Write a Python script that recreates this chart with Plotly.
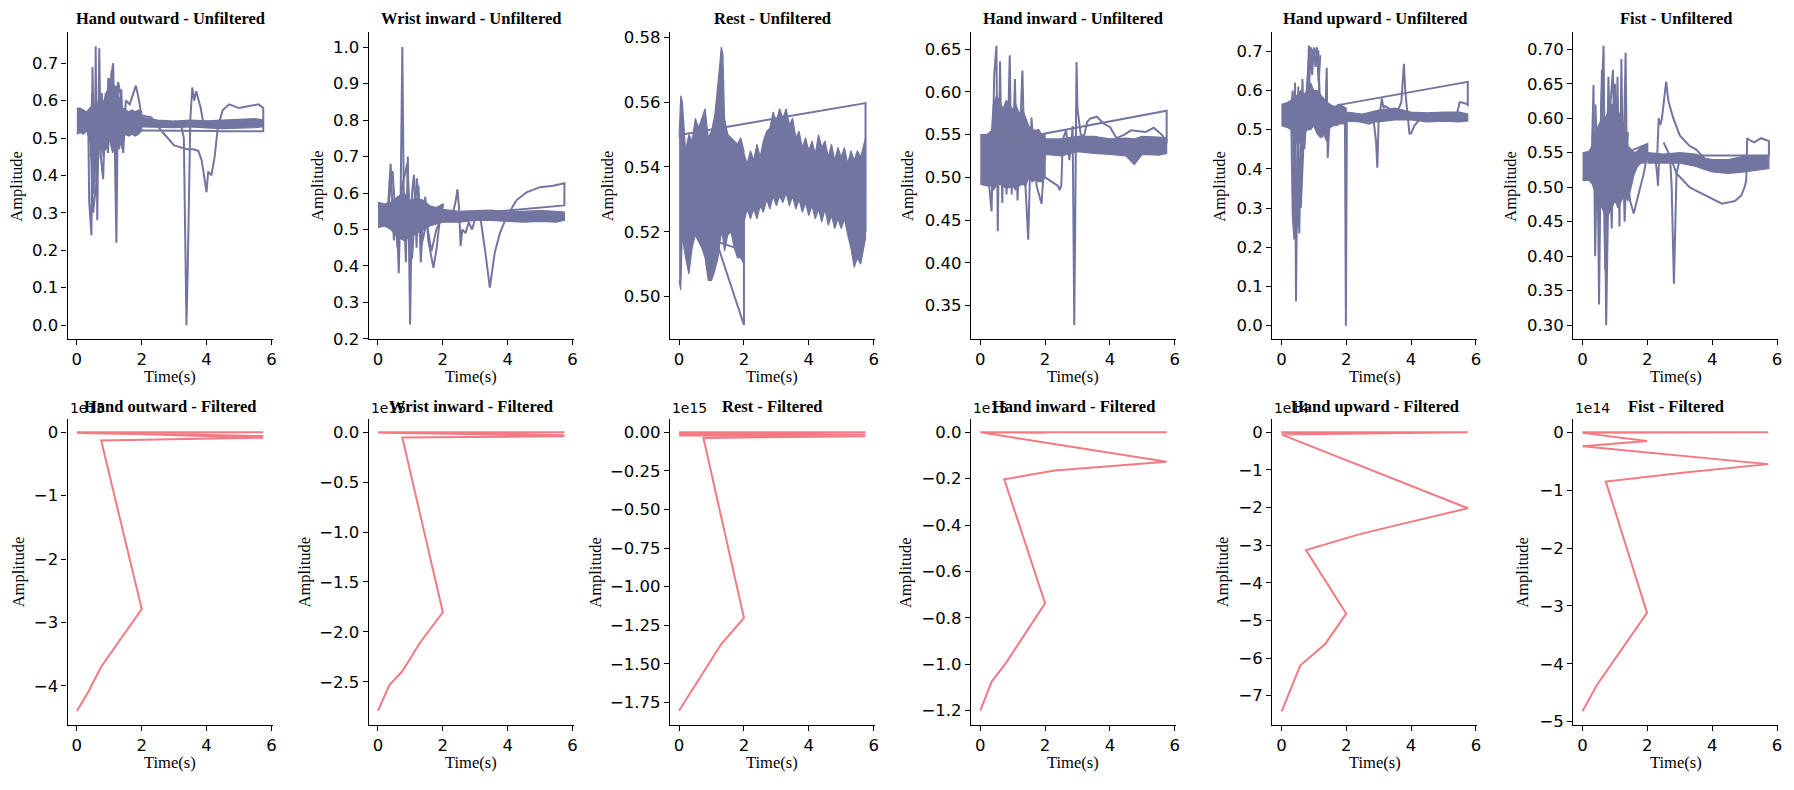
import plotly.graph_objects as go

# ---------------- data ----------------
gestures = ["Hand outward", "Wrist inward", "Rest", "Hand inward", "Hand upward", "Fist"]
x_ticks = [0, 2, 4, 6]

# Hand outward - unfiltered
ho_b1_t = [0.0, 0.1, 0.2, 0.3, 0.4, 0.5, 0.6, 0.7, 0.8, 0.9, 1.0, 1.1, 1.2, 1.3, 1.4, 1.5, 1.6, 1.7, 1.8, 1.9, 2.0]
ho_b1_hi = [0.58, 0.58, 0.575, 0.57, 0.58, 0.59, 0.585, 0.6, 0.59, 0.62, 0.64, 0.63, 0.6, 0.61, 0.58, 0.575, 0.57, 0.575, 0.57, 0.575, 0.57]
ho_b1_lo = [0.51, 0.515, 0.51, 0.52, 0.49, 0.46, 0.47, 0.49, 0.46, 0.47, 0.5, 0.46, 0.48, 0.47, 0.5, 0.51, 0.505, 0.51, 0.505, 0.51, 0.52]
ho_b2_t = [2.0, 2.5, 3.0, 3.5, 4.0, 4.5, 5.0, 5.5, 5.75]
ho_b2_hi = [0.555, 0.548, 0.545, 0.548, 0.546, 0.548, 0.55, 0.552, 0.548]
ho_b2_lo = [0.53, 0.53, 0.528, 0.53, 0.527, 0.525, 0.527, 0.528, 0.53]
ho_l1_t = [0.35, 0.38, 0.45, 0.48, 0.55, 0.58, 0.63, 0.69, 0.74, 0.81, 0.89, 0.96, 1.07, 1.12, 1.17, 1.22, 1.27, 1.34, 1.43, 1.51, 1.63, 1.73, 1.82, 1.92, 1.99]
ho_l1_y = [0.55, 0.33, 0.24, 0.69, 0.38, 0.745, 0.28, 0.74, 0.45, 0.39, 0.62, 0.46, 0.67, 0.70, 0.47, 0.22, 0.65, 0.62, 0.46, 0.60, 0.59, 0.62, 0.64, 0.60, 0.56]
ho_l2_t = [0.4, 0.5, 0.6, 0.7, 0.8, 0.9, 1.0, 1.1, 1.2, 1.3, 1.4, 1.5]
ho_l2_y = [0.56, 0.30, 0.38, 0.50, 0.60, 0.55, 0.66, 0.52, 0.64, 0.55, 0.47, 0.55]
ho_l3_t = [2.0, 2.3, 2.6, 2.8, 3.0, 3.2, 3.4, 3.6, 3.75, 3.85, 3.95, 4.0, 4.05, 4.15, 4.25, 4.35, 4.5, 4.7, 5.0, 5.3, 5.6, 5.75, 5.75, 2.0]
ho_l3_y = [0.56, 0.555, 0.52, 0.50, 0.48, 0.475, 0.47, 0.47, 0.465, 0.44, 0.38, 0.355, 0.41, 0.40, 0.45, 0.53, 0.575, 0.59, 0.58, 0.585, 0.59, 0.58, 0.518, 0.52]
ho_l4_t = [3.0, 3.2, 3.3, 3.35, 3.38, 3.42, 3.5, 3.56, 3.62, 3.68, 3.75, 3.82, 3.9, 4.0, 4.5, 5.0, 5.5, 5.75]
ho_l4_y = [0.545, 0.54, 0.50, 0.10, 0.0, 0.15, 0.55, 0.635, 0.60, 0.625, 0.605, 0.58, 0.54, 0.53, 0.535, 0.54, 0.535, 0.535]
ho_l5_t = [3.55, 5.75]
ho_l5_y = [0.536, 0.536]
ho_l6_t = [0.42, 0.47, 0.52, 0.57, 0.62, 0.67, 0.72, 0.77, 0.82, 0.87, 0.92, 0.97, 1.02, 1.07, 1.12, 1.17, 1.22, 1.27, 1.32, 1.37, 1.42, 1.47]
ho_l6_y = [0.45, 0.62, 0.35, 0.58, 0.40, 0.60, 0.48, 0.62, 0.45, 0.58, 0.50, 0.66, 0.49, 0.68, 0.55, 0.64, 0.40, 0.60, 0.50, 0.63, 0.52, 0.58]

# Wrist inward - unfiltered
wi_b1_t = [0.0, 0.2, 0.4, 0.6, 0.8, 1.0, 1.2, 1.4, 1.6, 1.8, 2.0]
wi_b1_hi = [0.575, 0.57, 0.575, 0.59, 0.6, 0.58, 0.585, 0.58, 0.565, 0.56, 0.57]
wi_b1_lo = [0.505, 0.51, 0.50, 0.48, 0.47, 0.48, 0.49, 0.50, 0.51, 0.515, 0.52]
wi_b2_t = [2.0, 2.5, 3.0, 3.5, 4.0, 4.5, 5.0, 5.5, 5.75]
wi_b2_hi = [0.555, 0.55, 0.552, 0.553, 0.548, 0.55, 0.552, 0.55, 0.548]
wi_b2_lo = [0.52, 0.52, 0.525, 0.525, 0.522, 0.52, 0.522, 0.52, 0.525]
wi_l1_t = [0.3, 0.39, 0.49, 0.58, 0.64, 0.70, 0.75, 0.80, 0.86, 0.92, 0.99, 1.05, 1.11, 1.19, 1.25, 1.32, 1.40, 1.46, 1.55, 1.71, 1.81, 1.91, 2.01]
wi_l1_y = [0.55, 0.68, 0.47, 0.55, 0.38, 0.60, 1.0, 0.55, 0.41, 0.70, 0.24, 0.60, 0.65, 0.45, 0.62, 0.41, 0.55, 0.59, 0.47, 0.395, 0.45, 0.53, 0.57]
wi_l2_t = [0.3, 0.45, 0.6, 0.75, 0.9, 1.05, 1.2, 1.35, 1.5, 1.65, 1.8, 2.0]
wi_l2_y = [0.55, 0.66, 0.45, 0.62, 0.68, 0.42, 0.64, 0.46, 0.52, 0.44, 0.5, 0.54]
wi_l3_t = [2.0, 2.3, 2.4, 2.45, 2.5, 2.55, 2.6, 2.7, 2.8, 2.9, 3.0, 3.14, 3.3, 3.45, 3.6, 3.76, 3.97, 4.27, 4.58, 5.0, 5.4, 5.75, 5.75, 2.5]
wi_l3_y = [0.54, 0.54, 0.58, 0.61, 0.56, 0.455, 0.50, 0.49, 0.52, 0.50, 0.53, 0.544, 0.445, 0.341, 0.436, 0.49, 0.535, 0.58, 0.602, 0.616, 0.62, 0.627, 0.566, 0.54]

# Rest - unfiltered
re_b1_t = [0.0, 0.05, 0.1, 0.15, 0.2, 0.3, 0.4, 0.5, 0.6, 0.7, 0.8, 0.9, 1.0, 1.1, 1.2, 1.25, 1.3, 1.35, 1.4, 1.5, 1.6, 1.7, 1.8, 1.9, 2.0]
re_b1_hi = [0.549, 0.562, 0.560, 0.553, 0.545, 0.550, 0.548, 0.555, 0.552, 0.555, 0.558, 0.549, 0.551, 0.556, 0.565, 0.571, 0.577, 0.575, 0.555, 0.550, 0.549, 0.548, 0.547, 0.549, 0.545]
re_b1_lo = [0.505, 0.502, 0.52, 0.515, 0.512, 0.507, 0.515, 0.519, 0.517, 0.515, 0.512, 0.505, 0.505, 0.508, 0.512, 0.516, 0.52, 0.518, 0.514, 0.519, 0.52, 0.515, 0.512, 0.512, 0.51]
re_b2_t = [2.0, 2.1, 2.2, 2.3, 2.4, 2.5, 2.6, 2.7, 2.8, 2.9, 3.0, 3.1, 3.2, 3.3, 3.4, 3.5, 3.6, 3.7, 3.8, 3.9,
           4.0, 4.1, 4.2, 4.3, 4.4, 4.5, 4.6, 4.7, 4.8, 4.9, 5.0, 5.1, 5.2, 5.3, 5.4, 5.5, 5.6, 5.7, 5.75]
re_b2_hi = [0.544, 0.541, 0.545, 0.542, 0.547, 0.543, 0.548, 0.551, 0.552, 0.557, 0.554, 0.558, 0.555, 0.558, 0.553, 0.555, 0.549, 0.551, 0.546, 0.549,
            0.545, 0.548, 0.544, 0.550, 0.546, 0.548, 0.543, 0.547, 0.542, 0.546, 0.543, 0.546, 0.541, 0.545, 0.542, 0.545, 0.543, 0.547, 0.549]
re_b2_lo = [0.523, 0.527, 0.524, 0.527, 0.524, 0.528, 0.526, 0.530, 0.527, 0.531, 0.528, 0.531, 0.529, 0.532, 0.528, 0.531, 0.527, 0.530, 0.526, 0.529,
            0.525, 0.528, 0.524, 0.527, 0.523, 0.527, 0.522, 0.525, 0.521, 0.524, 0.521, 0.524, 0.519, 0.515, 0.509, 0.512, 0.510, 0.515, 0.518]
re_l1_t = [0.15, 5.75, 5.75]
re_l1_y = [0.5501, 0.5597, 0.52]
re_l2_t = [1.75, 1.15, 2.0, 2.0]
re_l2_y = [0.515, 0.517, 0.4912, 0.53]

# Hand inward - unfiltered
hi_b1_t = [0.0, 0.2, 0.35, 0.4, 0.5, 0.6, 0.7, 0.8, 0.9, 1.0, 1.1, 1.2, 1.3, 1.4, 1.5, 1.6, 1.7, 1.8, 1.9, 2.0]
hi_b1_hi = [0.55, 0.55, 0.555, 0.585, 0.595, 0.59, 0.58, 0.59, 0.585, 0.58, 0.585, 0.575, 0.58, 0.57, 0.56, 0.556, 0.555, 0.556, 0.55, 0.55]
hi_b1_lo = [0.492, 0.49, 0.49, 0.485, 0.49, 0.492, 0.49, 0.487, 0.488, 0.49, 0.485, 0.49, 0.492, 0.49, 0.5, 0.495, 0.497, 0.495, 0.495, 0.5]
hi_b2_t = [2.0, 2.5, 3.0, 3.5, 4.0, 4.5, 4.75, 5.0, 5.5, 5.75]
hi_b2_hi = [0.545, 0.545, 0.548, 0.548, 0.545, 0.546, 0.545, 0.548, 0.547, 0.546]
hi_b2_lo = [0.527, 0.525, 0.53, 0.528, 0.527, 0.525, 0.515, 0.527, 0.526, 0.528]
hi_l1_t = [0.2, 0.35, 0.43, 0.50, 0.54, 0.61, 0.68, 0.74, 0.81, 0.91, 0.97, 1.07, 1.15, 1.30, 1.38, 1.48, 1.58, 1.74, 1.89, 2.0]
hi_l1_y = [0.52, 0.46, 0.62, 0.654, 0.437, 0.636, 0.47, 0.58, 0.48, 0.643, 0.48, 0.615, 0.473, 0.625, 0.50, 0.427, 0.57, 0.49, 0.469, 0.53]
hi_l2_t = [2.0, 2.2, 2.4, 2.45, 2.5, 2.55]
hi_l2_y = [0.50, 0.495, 0.49, 0.485, 0.49, 0.545]
hi_l3_t = [2.5, 2.65, 2.75, 2.85, 2.88, 2.9, 2.93, 2.97, 3.0, 3.1, 3.2, 3.3, 3.4, 3.6, 3.8, 4.0, 4.2, 4.45, 4.65, 5.1, 5.35, 5.6, 5.75]
hi_l3_y = [0.54, 0.555, 0.52, 0.56, 0.42, 0.327, 0.45, 0.635, 0.58, 0.55, 0.548, 0.565, 0.569, 0.571, 0.563, 0.559, 0.546, 0.55, 0.555, 0.553, 0.558, 0.55, 0.542]
hi_l4_t = [1.8, 5.75, 5.75]
hi_l4_y = [0.55, 0.578, 0.54]
hi_l5_t = [2.95, 4.1]
hi_l5_y = [0.537, 0.54]

# Hand upward - unfiltered
hu_b1_t = [0.0, 0.2, 0.3, 0.4, 0.5, 0.6, 0.7, 0.8, 0.9, 1.0, 1.1, 1.2, 1.3, 1.4, 1.5, 1.6, 1.7, 1.8, 1.9, 2.0]
hu_b1_hi = [0.565, 0.57, 0.575, 0.58, 0.59, 0.6, 0.59, 0.6, 0.62, 0.6, 0.6, 0.59, 0.58, 0.57, 0.565, 0.56, 0.56, 0.565, 0.56, 0.555]
hu_b1_lo = [0.51, 0.505, 0.5, 0.48, 0.46, 0.47, 0.49, 0.5, 0.5, 0.51, 0.49, 0.48, 0.49, 0.47, 0.505, 0.51, 0.51, 0.515, 0.515, 0.52]
hu_b2_t = [2.0, 2.5, 3.0, 3.5, 4.0, 4.5, 5.0, 5.5, 5.75]
hu_b2_hi = [0.545, 0.54, 0.55, 0.555, 0.545, 0.543, 0.545, 0.545, 0.54]
hu_b2_lo = [0.522, 0.52, 0.52, 0.525, 0.525, 0.52, 0.522, 0.52, 0.522]
hu_l1_t = [0.3, 0.35, 0.39, 0.42, 0.45, 0.49, 0.52, 0.55, 0.6, 0.65, 0.71, 0.78, 0.85, 0.93, 1.04, 1.14, 1.19, 1.26, 1.35, 1.40, 1.43, 1.5, 1.76, 1.96, 1.99, 2.02]
hu_l1_y = [0.55, 0.60, 0.26, 0.62, 0.062, 0.35, 0.61, 0.235, 0.40, 0.629, 0.45, 0.55, 0.714, 0.68, 0.70, 0.70, 0.55, 0.48, 0.53, 0.658, 0.428, 0.55, 0.55, 0.545, 0.0, 0.53]
hu_l2_t = [0.6, 0.7, 0.8, 0.85, 0.9, 1.0, 1.1, 1.15, 1.2, 1.3]
hu_l2_y = [0.30, 0.50, 0.62, 0.68, 0.71, 0.69, 0.71, 0.65, 0.50, 0.55]
hu_l3_t = [0.3, 0.35, 0.4, 0.45, 0.5, 0.55, 0.6, 0.65]
hu_l3_y = [0.55, 0.28, 0.22, 0.3, 0.25, 0.38, 0.35, 0.5]
hu_l4_t = [2.0, 2.5, 2.7, 2.85, 2.92, 2.96, 3.0, 3.05, 3.1, 3.15, 3.2, 3.4, 3.6, 3.7, 3.75, 3.78, 3.82, 3.9, 3.95, 4.0, 4.1, 4.3, 4.6, 5.0, 5.4, 5.5, 5.55, 5.75]
hu_l4_y = [0.53, 0.52, 0.515, 0.52, 0.47, 0.403, 0.52, 0.55, 0.58, 0.555, 0.56, 0.55, 0.55, 0.57, 0.62, 0.668, 0.60, 0.53, 0.49, 0.49, 0.51, 0.53, 0.535, 0.54, 0.535, 0.57, 0.57, 0.565]
hu_l5_t = [1.7, 5.75, 5.75]
hu_l5_y = [0.562, 0.622, 0.56]
hu_l6_t = [0.85, 0.9, 0.95, 1.0, 1.05, 1.1, 1.15, 1.2]
hu_l6_y = [0.60, 0.70, 0.64, 0.71, 0.66, 0.70, 0.62, 0.69]

# Fist - unfiltered
fi_b1_t = [0.0, 0.2, 0.3, 0.4, 0.5, 0.6, 0.7, 0.8, 0.9, 1.0, 1.1, 1.2, 1.3, 1.4, 1.5, 1.6, 1.7, 1.8, 1.9, 2.0]
fi_b1_hi = [0.55, 0.552, 0.56, 0.58, 0.59, 0.6, 0.6, 0.61, 0.62, 0.62, 0.61, 0.6, 0.59, 0.56, 0.555, 0.55, 0.553, 0.558, 0.56, 0.56]
fi_b1_lo = [0.51, 0.51, 0.505, 0.49, 0.48, 0.47, 0.46, 0.46, 0.47, 0.48, 0.47, 0.48, 0.49, 0.48, 0.5, 0.52, 0.53, 0.535, 0.535, 0.54]
fi_b2_t = [2.0, 2.5, 3.0, 3.5, 3.8, 4.0, 4.5, 5.0, 5.5, 5.75]
fi_b2_hi = [0.55, 0.548, 0.55, 0.548, 0.542, 0.54, 0.54, 0.545, 0.545, 0.545]
fi_b2_lo = [0.535, 0.535, 0.535, 0.53, 0.525, 0.522, 0.52, 0.522, 0.525, 0.527]
fi_l1_t = [0.29, 0.34, 0.39, 0.46, 0.51, 0.58, 0.65, 0.69, 0.73, 0.78, 0.86, 0.94, 1.01, 1.08, 1.14, 1.2, 1.25, 1.33, 1.37, 1.47, 1.58, 1.73, 1.89, 2.01]
fi_l1_y = [0.55, 0.648, 0.40, 0.58, 0.33, 0.62, 0.705, 0.50, 0.30, 0.45, 0.62, 0.67, 0.48, 0.66, 0.443, 0.686, 0.50, 0.695, 0.52, 0.48, 0.462, 0.49, 0.52, 0.55]
fi_l2_t = [0.4, 0.5, 0.6, 0.7, 0.8, 0.9, 1.0, 1.1, 1.2, 1.3, 1.4]
fi_l2_y = [0.62, 0.45, 0.67, 0.38, 0.66, 0.44, 0.65, 0.47, 0.63, 0.45, 0.58]
fi_l3_t = [2.3, 2.35, 2.4, 2.45, 2.5, 2.55, 2.58, 2.65, 2.8, 3.0, 3.3, 3.5, 3.8, 4.0, 4.5, 5.0, 5.5, 5.75]
fi_l3_y = [0.54, 0.60, 0.59, 0.60, 0.62, 0.64, 0.653, 0.625, 0.60, 0.575, 0.56, 0.555, 0.54, 0.535, 0.53, 0.535, 0.535, 0.535]
fi_l4_t = [2.5, 2.6, 2.7, 2.9, 3.1, 3.3, 3.5, 3.7, 3.9, 4.1, 4.3, 4.5, 4.7, 4.9, 5.0, 5.05, 5.08, 5.2, 5.3, 5.5, 5.65, 5.75, 5.75, 3.6]
fi_l4_y = [0.565, 0.555, 0.545, 0.52, 0.51, 0.50, 0.495, 0.49, 0.485, 0.48, 0.476, 0.478, 0.48, 0.488, 0.50, 0.51, 0.571, 0.567, 0.565, 0.571, 0.568, 0.567, 0.546, 0.546]
fi_l5_t = [2.7, 2.75, 2.8, 2.82, 2.85, 2.9, 3.0]
fi_l5_y = [0.545, 0.50, 0.40, 0.36, 0.42, 0.52, 0.54]
fi_l6_t = [1.5, 2.0, 2.0]
fi_l6_y = [0.553, 0.5625, 0.545]
fi_l7_t = [2.1, 2.25, 2.3, 2.33, 2.36, 2.45]
fi_l7_y = [0.545, 0.54, 0.52, 0.502, 0.54, 0.545]

# Filtered (values in units of 10^exp)
filt_exp = [15, 15, 15, 15, 14, 14]
hof_t = [0, 5.75, 0, 5.75, 0, 5.75, 0.75, 2.0, 0.75, 0.35, 0]
hof_y = [0, 0, -0.01, -0.06, 0.0, -0.085, -0.13, -2.79, -3.7, -4.1, -4.4]
wif_t = [0, 5.75, 0, 5.75, 0, 5.75, 0.75, 2.0, 1.3, 0.75, 0.35, 0]
wif_y = [0, 0, -0.005, -0.03, 0, -0.04, -0.0525, -1.804, -2.106, -2.395, -2.533, -2.789]
ref_t = [0, 5.75, 0, 5.75, 0, 5.75, 0.75, 2.0, 1.3, 0.515, 0]
ref_y = [0, 0, -0.01, -0.015, -0.02, -0.025, -0.036, -1.203, -1.372, -1.627, -1.803]
hif_t = [0, 2.0, 0, 5.75, 0, 5.75, 2.3, 0.74, 2.0, 0.81, 0.35, 0]
hif_y = [0, -0.002, 0, 0, 0, -0.127, -0.165, -0.203, -0.737, -0.991, -1.076, -1.2]
huf_t = [0, 2.0, 0, 5.75, 0.01, 5.75, 4.64, 3.4, 2.37, 0.76, 2.0, 1.35, 0.58, 0.01]
huf_y = [-0.02, -0.04, 0, 0, -0.06, -2.02, -2.24, -2.5, -2.72, -3.13, -4.82, -5.63, -6.2, -7.42]
fif_t = [0, 2.0, 0, 5.73, 0, 1.99, 0, 5.73, 3.23, 0.72, 1.99, 0.44, 0]
fif_y = [0, -0.01, 0, 0, -0.01, -0.15, -0.24, -0.55, -0.69, -0.85, -3.12, -4.37, -4.82]

# axis ticks / ranges
top_yrange = [[-0.037, 0.782], [0.2, 1.04], [0.4869, 0.5815], [0.3108, 0.6696], [-0.034, 0.748], [0.28, 0.7243]]
top_yticks = [[0, 0.1, 0.2, 0.3, 0.4, 0.5, 0.6, 0.7],
              [0.2, 0.3, 0.4, 0.5, 0.6, 0.7, 0.8, 0.9, 1.0],
              [0.50, 0.52, 0.54, 0.56, 0.58],
              [0.35, 0.40, 0.45, 0.50, 0.55, 0.60, 0.65],
              [0, 0.1, 0.2, 0.3, 0.4, 0.5, 0.6, 0.7],
              [0.30, 0.35, 0.40, 0.45, 0.50, 0.55, 0.60, 0.65, 0.70]]
top_yfmt = [".1f", ".1f", ".2f", ".2f", ".1f", ".2f"]
bot_yrange = [[-4.62, 0.207], [-2.933, 0.131], [-1.897, 0.085], [-1.262, 0.0565], [-7.78, 0.348], [-5.057, 0.226]]
bot_yticks = [[-4, -3, -2, -1, 0],
              [-2.5, -2.0, -1.5, -1.0, -0.5, 0.0],
              [-1.75, -1.5, -1.25, -1.0, -0.75, -0.5, -0.25, 0.0],
              [-1.2, -1.0, -0.8, -0.6, -0.4, -0.2, 0.0],
              [-7, -6, -5, -4, -3, -2, -1, 0],
              [-5, -4, -3, -2, -1, 0]]
bot_yfmt = ["d", ".1f", ".2f", ".1f", "d", "d"]

# ---------------- assembly ----------------
UNF = "#72759f"
FIL = "#f27a82"
W, H = 1794, 790
lefts_px = [67.7, 369.5, 671.3, 973.1, 1274.9, 1576.7]
width_px = 205.5
top_px = (29.0, 341.0)
bot_px = (422.7, 734.0)
amp_x_top = [17, 318, 609, 909.3, 1222.7, 1514.3]
amp_x_bot = [18.3, 305, 596, 907, 1225, 1526]

top_bands = [
    [(ho_b1_t, ho_b1_hi, ho_b1_lo), (ho_b2_t, ho_b2_hi, ho_b2_lo)],
    [(wi_b1_t, wi_b1_hi, wi_b1_lo), (wi_b2_t, wi_b2_hi, wi_b2_lo)],
    [(re_b1_t, re_b1_hi, re_b1_lo), (re_b2_t, re_b2_hi, re_b2_lo)],
    [(hi_b1_t, hi_b1_hi, hi_b1_lo), (hi_b2_t, hi_b2_hi, hi_b2_lo)],
    [(hu_b1_t, hu_b1_hi, hu_b1_lo), (hu_b2_t, hu_b2_hi, hu_b2_lo)],
    [(fi_b1_t, fi_b1_hi, fi_b1_lo), (fi_b2_t, fi_b2_hi, fi_b2_lo)],
]
top_lines = [
    [(ho_l1_t, ho_l1_y), (ho_l2_t, ho_l2_y), (ho_l3_t, ho_l3_y), (ho_l4_t, ho_l4_y), (ho_l5_t, ho_l5_y),
     (ho_l6_t, ho_l6_y)],
    [(wi_l1_t, wi_l1_y), (wi_l2_t, wi_l2_y), (wi_l3_t, wi_l3_y)],
    [(re_l1_t, re_l1_y), (re_l2_t, re_l2_y)],
    [(hi_l1_t, hi_l1_y), (hi_l2_t, hi_l2_y), (hi_l3_t, hi_l3_y), (hi_l4_t, hi_l4_y), (hi_l5_t, hi_l5_y)],
    [(hu_l1_t, hu_l1_y), (hu_l2_t, hu_l2_y), (hu_l3_t, hu_l3_y), (hu_l4_t, hu_l4_y), (hu_l5_t, hu_l5_y),
     (hu_l6_t, hu_l6_y)],
    [(fi_l1_t, fi_l1_y), (fi_l2_t, fi_l2_y), (fi_l3_t, fi_l3_y), (fi_l4_t, fi_l4_y), (fi_l5_t, fi_l5_y),
     (fi_l6_t, fi_l6_y), (fi_l7_t, fi_l7_y)],
]
bot_lines = [(hof_t, hof_y), (wif_t, wif_y), (ref_t, ref_y), (hif_t, hif_y), (huf_t, huf_y), (fif_t, fif_y)]

fig = go.Figure()
TICKFONT = dict(family="DejaVu Sans", size=16.5, color="black")
SERIF = "Liberation Serif"
LBL = 16.5


def px_x(p):
    return p / W


def px_y(p):
    return 1 - p / H


annotations = []

for i in range(6):
    for row in (0, 1):
        n = i + 1 + 6 * row
        xa = "x" if n == 1 else f"x{n}"
        ya = "y" if n == 1 else f"y{n}"
        if row == 0:
            for (t, hi, lo) in top_bands[i]:
                fig.add_trace(go.Scatter(x=list(t) + list(t)[::-1], y=list(hi) + list(lo)[::-1],
                                         fill="toself", fillcolor=UNF, mode="lines",
                                         line=dict(color=UNF, width=1.2),
                                         xaxis=xa, yaxis=ya, showlegend=False, hoverinfo="skip"))
            for (t, y) in top_lines[i]:
                fig.add_trace(go.Scatter(x=t, y=y, mode="lines", line=dict(color=UNF, width=2),
                                         xaxis=xa, yaxis=ya, showlegend=False))
        else:
            t, y = bot_lines[i]
            fig.add_trace(go.Scatter(x=t, y=y, mode="lines", line=dict(color=FIL, width=2),
                                     xaxis=xa, yaxis=ya, showlegend=False))

        xd = [px_x(lefts_px[i]), px_x(lefts_px[i] + width_px)]
        tp, bp = top_px if row == 0 else bot_px
        yd = [px_y(bp), px_y(tp)]
        axis_common = dict(showline=True, linecolor="black", linewidth=1.1, ticks="outside",
                           ticklen=5, tickwidth=1.1, tickcolor="black", showgrid=False,
                           zeroline=False, tickfont=TICKFONT, mirror=False)
        fig.layout[f"xaxis{n}"] = dict(domain=xd, anchor=ya, range=[-0.2875, 6.0375],
                                       tickvals=x_ticks, **axis_common)
        if row == 0:
            fig.layout[f"yaxis{n}"] = dict(domain=yd, anchor=xa, range=top_yrange[i],
                                           tickvals=top_yticks[i], tickformat=top_yfmt[i], **axis_common)
        else:
            fig.layout[f"yaxis{n}"] = dict(domain=yd, anchor=xa, range=bot_yrange[i],
                                           tickvals=bot_yticks[i], tickformat=bot_yfmt[i], **axis_common)

        cx = lefts_px[i] + width_px / 2
        kind = "Unfiltered" if row == 0 else "Filtered"
        title_y = 15 if row == 0 else 409.5
        annotations.append(dict(text=f"<b>{gestures[i]} - {kind}</b>", x=px_x(cx), y=px_y(title_y),
                                xref="paper", yref="paper", xanchor="center", yanchor="middle",
                                showarrow=False, font=dict(family=SERIF, size=LBL, color="black")))
        annotations.append(dict(text="Time(s)", x=px_x(cx), y=px_y(bp + 38), xref="paper", yref="paper",
                                xanchor="center", yanchor="middle", showarrow=False,
                                font=dict(family=SERIF, size=LBL, color="black")))
        ax_amp = amp_x_top[i] if row == 0 else amp_x_bot[i]
        annotations.append(dict(text="Amplitude", x=px_x(ax_amp), y=px_y((tp + bp) / 2), xref="paper",
                                yref="paper", xanchor="center", yanchor="middle", textangle=-90,
                                showarrow=False, font=dict(family=SERIF, size=LBL, color="black")))
        if row == 1:
            annotations.append(dict(text=f"1e{filt_exp[i]}", x=px_x(lefts_px[i]), y=px_y(tp - 1),
                                    xref="paper", yref="paper", xanchor="left", yanchor="bottom",
                                    showarrow=False, font=dict(family="DejaVu Sans", size=13.9, color="black")))

fig.update_layout(width=W, height=H, margin=dict(l=0, r=0, t=0, b=0),
                  paper_bgcolor="white", plot_bgcolor="white", annotations=annotations,
                  showlegend=False)

fig.write_html("out.html")
